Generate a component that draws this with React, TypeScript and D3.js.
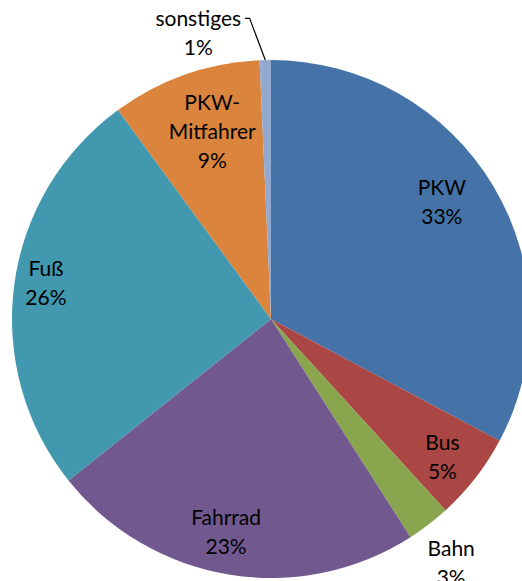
import React, { useEffect, useRef } from 'react';
import * as d3 from 'd3';

// Verkehrsmittelwahl (Anteile in %)
const categories = ['PKW', 'Bus', 'Bahn', 'Fahrrad', 'Fuß', 'PKW-Mitfahrer', 'sonstiges'];
const values = [32.6, 5.4, 2.7, 23.2, 25.5, 9.3, 0.7];
const labelLines = [['PKW'], ['Bus'], ['Bahn'], ['Fahrrad'], ['Fuß'], ['PKW-', 'Mitfahrer'], ['sonstiges']];
const colors = ['#4572A7', '#AA4643', '#89A54E', '#71588F', '#4198AF', '#DB843D', '#93A9CF'];
// label placement: radius factor and angle shift (deg), like Excel "best fit"
const labelRadius = [0.8, 0.85, 1.17, 0.84, 0.88, 0.76, 1.14];
const labelShift = [-3.5, 1, 1, 2.5, 1.5, 2, -13];

export default function App() {
  const ref = useRef<SVGSVGElement>(null);

  useEffect(() => {
    const cx = 271, cy = 319, r = 259;
    const lineH = 29;

    const svg = d3.select(ref.current);
    svg.selectAll('*').remove();

    const data = categories.map((c, i) => ({ name: c, value: values[i], i }));
    const total = d3.sum(values);

    const pie = d3.pie<any>().sort(null).value(d => d.value);
    const arc = d3.arc<any>().innerRadius(0).outerRadius(r);
    const arcs = pie(data);

    const g = svg.append('g').attr('transform', `translate(${cx},${cy})`);

    g.selectAll('path')
      .data(arcs)
      .join('path')
      .attr('fill', d => colors[d.data.i])
      .attr('d', arc);

    const polar = (ang: number, rad: number) => [Math.sin(ang) * rad, -Math.cos(ang) * rad];

    arcs.forEach(d => {
      const i = d.data.i;
      const mid = (d.startAngle + d.endAngle) / 2 + (labelShift[i] * Math.PI) / 180;
      const [lx, ly] = polar(mid, r * labelRadius[i]);
      const lines = [...labelLines[i], Math.round((d.data.value / total) * 100) + '%'];
      const t = g.append('text')
        .attr('text-anchor', 'middle')
        .attr('font-family', 'Lato, sans-serif')
        .attr('font-size', 21)
        .attr('fill', '#000');
      lines.forEach((ln, k) => {
        t.append('tspan')
          .attr('x', lx)
          .attr('y', ly + (k - (lines.length - 1) / 2) * lineH)
          .attr('dy', '0.36em')
          .text(ln);
      });

      if (i === categories.length - 1) {
        // leader line for the small slice
        const m = (d.startAngle + d.endAngle) / 2;
        const [sx, sy] = polar(m, r);
        const [ex] = polar(m - 0.05, r * 1.145);
        const bb = (t.node() as SVGTextElement).getBBox();
        const fx = bb.x + bb.width + 4;
        const yy = ly - lineH / 2;
        g.append('path')
          .attr('d', `M${sx},${sy}L${ex},${yy}L${fx},${yy}`)
          .attr('fill', 'none')
          .attr('stroke', '#000')
          .attr('stroke-width', 1.2);
      }
    });
  }, []);

  return (
    <svg ref={ref} width={522} height={581} style={{ display: 'block', position: 'absolute', left: 0, top: 0 }} />
  );
}
